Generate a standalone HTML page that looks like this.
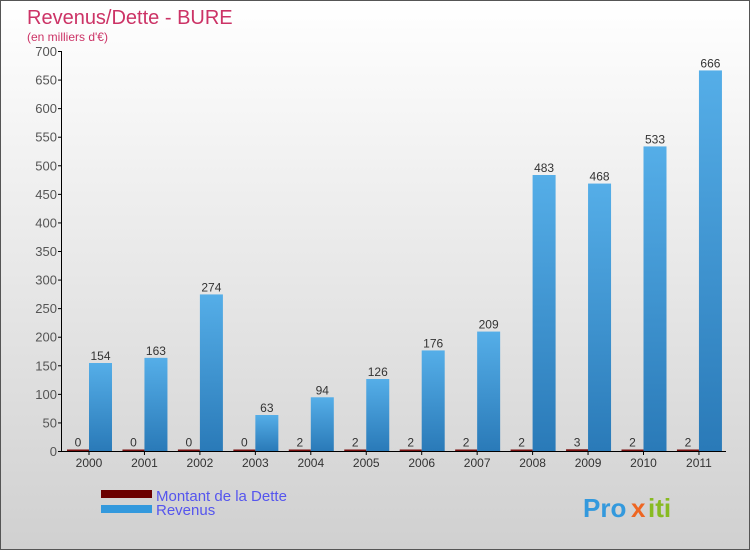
<!DOCTYPE html>
<html><head><meta charset="utf-8"><style>
body{margin:0}
#c{width:750px;height:550px;position:relative;background:linear-gradient(#ffffff,#d0d0d0);font-family:"Liberation Sans",sans-serif;box-sizing:border-box;border:1px solid #555;overflow:hidden}
</style></head><body>
<div id="c">
<svg id="s" width="750" height="550" style="position:absolute;left:0;top:0"></svg>
</div>
<script>
const years=["2000","2001","2002","2003","2004","2005","2006","2007","2008","2009","2010","2011"];
const debt=[0,0,0,0,2,2,2,2,2,3,2,2];
const revenus=[154,163,274,63,94,126,176,209,483,468,533,666];
const ticks=[0,50,100,150,200,250,300,350,400,450,500,550,600,650,700];
const NS="http://www.w3.org/2000/svg";
const s=document.getElementById('s');
function y(v){return 450-v*400/700;}
function xc(i){return 88+i*55.45;}
function el(t,a,txt){const e=document.createElementNS(NS,t);for(const k in a)e.setAttribute(k,a[k]);if(txt!==undefined)e.textContent=txt;s.appendChild(e);return e;}
const defs=el('defs',{});
defs.innerHTML='<linearGradient id="gb" x1="0" y1="0" x2="0" y2="1"><stop offset="0" stop-color="#55aee8"/><stop offset="1" stop-color="#2a7ab8"/></linearGradient>';
let t=el('text',{x:26,y:23,fill:'#cc3366','font-size':20},'Revenus/Dette - BURE');


t=el('text',{x:26,y:40,fill:'#cc3366','font-size':12},"(en milliers d'€)");


let a=el('line',{x1:60.5,y1:50,x2:60.5,y2:450,stroke:'#000'});


a=el('line',{x1:60,y1:450.5,x2:725,y2:450.5,stroke:'#000'});


ticks.forEach(v=>{
 el('line',{x1:57,x2:61,y1:y(v)+.5,y2:y(v)+.5,stroke:'#000'});
 const l=el('text',{x:56,y:y(v)+5,'text-anchor':'end','font-size':13,fill:'#555'},v);
 
 
});
years.forEach((yr,i)=>{
 const c=xc(i);
 el('line',{x1:c,x2:c,y1:450,y2:454,stroke:'#000'});
 const l=el('text',{x:c,y:466,'text-anchor':'middle','font-size':12,fill:'#333'},yr);
 
 
 const dh=Math.max(1.5,450-y(debt[i]));
 const d=el('rect',{x:c-22,y:450-dh,width:22,height:dh,fill:'#7a1010'});
 
 
 const dl=el('text',{x:c-11,y:450-dh-3,'text-anchor':'middle','font-size':12,fill:'#333'},debt[i]);
 
 
 const r=el('rect',{x:c,y:y(revenus[i]),width:23,height:450-y(revenus[i]),fill:'url(#gb)'});
 
 
 const rl=el('text',{x:c+11.5,y:y(revenus[i])-3,'text-anchor':'middle','font-size':12,fill:'#333'},revenus[i]);
 
 
});
let g=el('rect',{x:100,y:489,width:51,height:8,fill:'#6b0000'});


g=el('text',{x:155,y:500,'font-size':15,fill:'#5555ee'},'Montant de la Dette');


g=el('rect',{x:100,y:504,width:51,height:8,fill:'#3399dd'});


g=el('text',{x:155,y:514,'font-size':15,fill:'#5555ee'},'Revenus');


g=el('text',{x:582,y:516,'font-size':26,'font-weight':'bold',fill:'#3399dd'},'Pro');


el('text',{x:630,y:516,'font-size':26,'font-weight':'bold',fill:'#ee6622'},'x');
el('text',{x:647,y:516,'font-size':26,'font-weight':'bold',fill:'#88bb22'},'iti');
</script>
</body></html>
